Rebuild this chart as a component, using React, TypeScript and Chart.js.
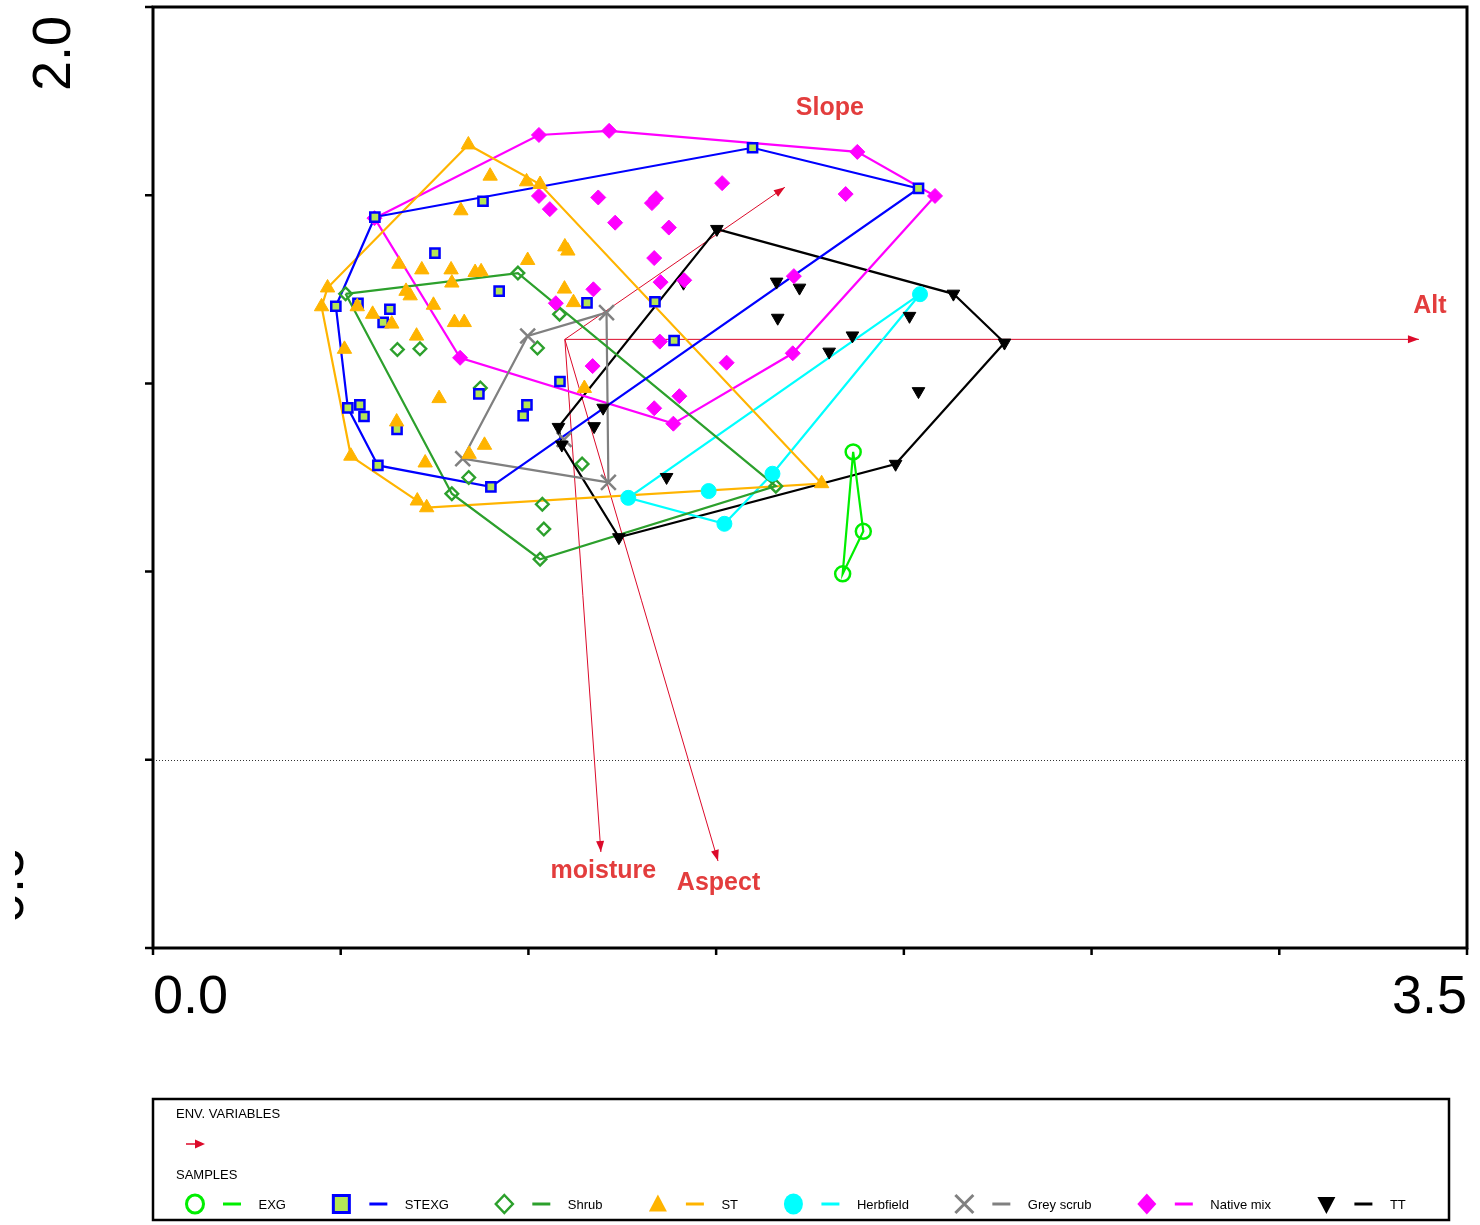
import React, { useEffect, useRef } from 'react';
import { Chart, registerables } from 'chart.js';

Chart.register(...registerables);

// ---------------- axes ----------------
const xTicks = [0, 0.5, 1, 1.5, 2, 2.5, 3, 3.5];
const yTicks = [-0.5, 0, 0.5, 1, 1.5, 2];
const xEndTicks = [0, 3.5];
const xEndLabels = ['0.0', '3.5'];
const yEndTicks = [2.0, -0.5];
const yEndLabels = ['2.0', '-0.5'];

// ---------------- environmental variables ----------------
const envNames = ['Alt', 'Slope', 'moisture', 'Aspect'];
const envOriginX = 1.097;
const envOriginY = 1.117;
const envX = [3.372, 1.683, 1.193, 1.505];
const envY = [1.117, 1.521, -0.245, -0.269];

// ---------------- samples ----------------
const groupNames = ['EXG', 'STEXG', 'Shrub', 'ST', 'Herbfield', 'Grey scrub', 'Native mix', 'TT'];

const exgX = [1.865, 1.892, 1.837];
const exgY = [0.818, 0.607, 0.494];
const exgHull = [0, 1, 2];

const stexgX = [0.591, 0.879, 1.597, 2.039, 0.751, 0.922, 0.487, 0.546, 0.631, 0.613, 1.156, 1.337, 1.388, 1.084, 0.868, 0.996, 0.986, 0.519, 0.551, 0.562, 0.650, 0.599, 0.900];
const stexgY = [1.442, 1.484, 1.626, 1.518, 1.346, 1.245, 1.205, 1.213, 1.197, 1.162, 1.214, 1.217, 1.114, 1.005, 0.972, 0.943, 0.914, 0.935, 0.943, 0.912, 0.878, 0.782, 0.725];
const stexgHull = [0, 2, 3, 22, 21, 17, 6];

const shrubX = [0.513, 0.972, 1.083, 0.651, 0.711, 1.024, 0.872, 1.143, 0.841, 0.796, 1.037, 1.041, 1.031, 1.659];
const shrubY = [1.238, 1.293, 1.184, 1.090, 1.092, 1.094, 0.988, 0.786, 0.750, 0.707, 0.679, 0.613, 0.533, 0.727];
const shrubHull = [0, 1, 13, 12, 9];

const stX = [0.840, 0.898, 0.995, 1.031, 0.820, 1.097, 1.105, 0.998, 0.655, 0.716, 0.794, 0.858, 0.874, 0.796, 0.674, 0.685, 0.465, 0.449, 0.544, 0.585, 0.636, 0.747, 0.803, 0.829, 1.096, 1.120, 0.702, 0.510, 0.762, 0.649, 0.883, 0.842, 0.725, 0.527, 0.704, 0.729, 1.149, 1.781];
const stY = [1.634, 1.551, 1.536, 1.529, 1.459, 1.363, 1.352, 1.327, 1.317, 1.302, 1.302, 1.295, 1.297, 1.267, 1.245, 1.233, 1.254, 1.204, 1.204, 1.184, 1.158, 1.208, 1.162, 1.162, 1.251, 1.215, 1.126, 1.091, 0.960, 0.898, 0.836, 0.812, 0.789, 0.807, 0.688, 0.670, 0.987, 0.734];
const stHull = [0, 3, 37, 35, 34, 33, 17, 16];

const herbX = [2.043, 1.650, 1.480, 1.266, 1.522];
const herbY = [1.237, 0.760, 0.714, 0.696, 0.627];
const herbHull = [0, 3, 4, 1];

const greyX = [1.208, 0.998, 0.825, 1.213, 1.095];
const greyY = [1.188, 1.126, 0.800, 0.737, 0.851];
const greyHull = [0, 3, 2, 1];

const nativeX = [0.590, 1.028, 1.215, 1.876, 2.083, 1.516, 1.845, 1.028, 1.057, 1.186, 1.340, 1.329, 1.231, 1.374, 1.335, 1.352, 1.415, 1.173, 1.073, 1.707, 1.350, 1.528, 1.171, 1.704, 1.402, 1.335, 1.386, 0.818];
const nativeY = [1.439, 1.660, 1.671, 1.615, 1.498, 1.532, 1.503, 1.498, 1.463, 1.494, 1.492, 1.479, 1.427, 1.414, 1.333, 1.269, 1.274, 1.250, 1.213, 1.285, 1.111, 1.055, 1.046, 1.080, 0.966, 0.934, 0.893, 1.068];
const nativeHull = [0, 1, 2, 3, 4, 23, 26, 27];

const ttX = [1.502, 2.132, 2.268, 1.978, 1.241, 1.089, 1.080, 1.661, 1.722, 1.664, 2.015, 1.863, 1.413, 1.801, 2.039, 1.199, 1.175, 1.368];
const ttY = [1.410, 1.238, 1.108, 0.786, 0.591, 0.837, 0.884, 1.270, 1.254, 1.174, 1.179, 1.127, 1.267, 1.084, 0.979, 0.935, 0.886, 0.751];
const ttHull = [0, 1, 2, 3, 4, 5, 6];

const groupXs = [exgX, stexgX, shrubX, stX, herbX, greyX, nativeX, ttX];
const groupYs = [exgY, stexgY, shrubY, stY, herbY, greyY, nativeY, ttY];
const groupHulls = [exgHull, stexgHull, shrubHull, stHull, herbHull, greyHull, nativeHull, ttHull];

// ---------------- styles ----------------
const FONT = '"Liberation Sans", Arial, Helvetica, sans-serif';
const ENV_LINE = '#dc0a2a';
const ENV_TEXT = '#e33d3d';
const envLabelOffset = [[11, -26], [45, -72], [2.5, 26], [0.5, 29]];

type GStyle = { color: string; fill: string; style: any; radius: number; border: number; rot: number; order: number; legend: string };
const groupStyles: GStyle[] = [
  { color: '#00ee00', fill: 'rgba(0,0,0,0)', style: 'circle', radius: 7.5, border: 2.5, rot: 0, order: 0, legend: 'ocircle' },
  { color: '#0000ff', fill: '#b5e655', style: 'rect', radius: 6.5, border: 2.5, rot: 0, order: 3, legend: 'square' },
  { color: '#2ca02c', fill: 'rgba(0,0,0,0)', style: 'rectRot', radius: 6.3, border: 2.4, rot: 0, order: 7, legend: 'odiamond' },
  { color: '#ffb400', fill: '#ffb400', style: 'triangle', radius: 8.3, border: 1, rot: 0, order: 2, legend: 'triUp' },
  { color: '#00ffff', fill: '#00ffff', style: 'circle', radius: 7.5, border: 1, rot: 0, order: 1, legend: 'fcircle' },
  { color: '#808080', fill: '#808080', style: 'crossRot', radius: 10.5, border: 2.5, rot: 0, order: 6, legend: 'x' },
  { color: '#ff00ff', fill: '#ff00ff', style: 'rectRot', radius: 7.5, border: 1, rot: 0, order: 4, legend: 'fdiamond' },
  { color: '#000000', fill: '#000000', style: 'triangle', radius: 7.3, border: 1, rot: 180, order: 5, legend: 'triDown' },
];

function drawLegendSymbol(ctx: CanvasRenderingContext2D, kind: string, cx: number, cy: number, color: string, fill: string) {
  ctx.save();
  ctx.strokeStyle = color;
  ctx.fillStyle = fill;
  ctx.lineWidth = 3;
  ctx.beginPath();
  switch (kind) {
    case 'ocircle':
      ctx.ellipse(cx, cy, 8.5, 9, 0, 0, Math.PI * 2);
      ctx.stroke();
      break;
    case 'square':
      ctx.rect(cx - 8, cy - 8.5, 16, 17);
      ctx.fill();
      ctx.stroke();
      break;
    case 'odiamond':
      ctx.lineWidth = 2.5;
      ctx.moveTo(cx, cy - 9);
      ctx.lineTo(cx + 8.5, cy);
      ctx.lineTo(cx, cy + 9);
      ctx.lineTo(cx - 8.5, cy);
      ctx.closePath();
      ctx.stroke();
      break;
    case 'triUp':
      ctx.moveTo(cx, cy - 9.5);
      ctx.lineTo(cx + 9, cy + 7.5);
      ctx.lineTo(cx - 9, cy + 7.5);
      ctx.closePath();
      ctx.fill();
      break;
    case 'fcircle':
      ctx.ellipse(cx, cy, 9.5, 10.5, 0, 0, Math.PI * 2);
      ctx.fill();
      break;
    case 'x':
      ctx.moveTo(cx - 9, cy - 9);
      ctx.lineTo(cx + 9, cy + 9);
      ctx.moveTo(cx + 9, cy - 9);
      ctx.lineTo(cx - 9, cy + 9);
      ctx.stroke();
      break;
    case 'fdiamond':
      ctx.moveTo(cx, cy - 10.5);
      ctx.lineTo(cx + 9.5, cy);
      ctx.lineTo(cx, cy + 10.5);
      ctx.lineTo(cx - 9.5, cy);
      ctx.closePath();
      ctx.fill();
      break;
    case 'triDown':
      ctx.moveTo(cx - 9, cy - 7);
      ctx.lineTo(cx + 9, cy - 7);
      ctx.lineTo(cx, cy + 10);
      ctx.closePath();
      ctx.fill();
      break;
  }
  ctx.restore();
}

const overlayPlugin = {
  id: 'ordinationOverlay',
  beforeDatasetsDraw(chart: any) {
    const { ctx, chartArea: a, scales } = chart;
    const y0 = scales.y.getPixelForValue(0);
    ctx.save();
    ctx.strokeStyle = '#333';
    ctx.lineWidth = 1;
    ctx.setLineDash([1, 2]);
    ctx.beginPath();
    ctx.moveTo(a.left, Math.round(y0) + 0.5);
    ctx.lineTo(a.right, Math.round(y0) + 0.5);
    ctx.stroke();
    ctx.restore();
  },
  afterDatasetsDraw(chart: any) {
    const { ctx, scales } = chart;
    const xs = scales.x;
    const ys = scales.y;
    const ox = xs.getPixelForValue(envOriginX);
    const oy = ys.getPixelForValue(envOriginY);
    ctx.save();
    envNames.forEach((name, i) => {
      const tx = xs.getPixelForValue(envX[i]);
      const ty = ys.getPixelForValue(envY[i]);
      const ang = Math.atan2(ty - oy, tx - ox);
      const c = Math.cos(ang);
      const s = Math.sin(ang);
      const L = 11;
      const W = 4;
      ctx.fillStyle = ENV_LINE;
      ctx.beginPath();
      ctx.moveTo(tx, ty);
      ctx.lineTo(tx - L * c + W * s, ty - L * s - W * c);
      ctx.lineTo(tx - L * c - W * s, ty - L * s + W * c);
      ctx.closePath();
      ctx.fill();
      ctx.fillStyle = ENV_TEXT;
      ctx.font = 'bold 25px ' + FONT;
      ctx.textAlign = 'center';
      ctx.textBaseline = 'alphabetic';
      ctx.fillText(name, tx + envLabelOffset[i][0], ty + envLabelOffset[i][1]);
    });
    ctx.restore();
  },
  afterDraw(chart: any) {
    const { ctx, chartArea: a, scales } = chart;
    const xs = scales.x;
    const ys = scales.y;
    ctx.save();
    // frame
    ctx.strokeStyle = '#000';
    ctx.lineWidth = 3;
    ctx.strokeRect(a.left, a.top, a.right - a.left, a.bottom - a.top);
    // ticks
    ctx.lineWidth = 2.5;
    ctx.beginPath();
    xTicks.forEach((v) => {
      const px = xs.getPixelForValue(v);
      ctx.moveTo(px, a.bottom);
      ctx.lineTo(px, a.bottom + 7);
    });
    yTicks.forEach((v) => {
      const py = ys.getPixelForValue(v);
      ctx.moveTo(a.left - 8, py);
      ctx.lineTo(a.left, py);
    });
    ctx.stroke();
    // tick labels
    ctx.fillStyle = '#000';
    ctx.font = '54px ' + FONT;
    ctx.textBaseline = 'alphabetic';
    ctx.textAlign = 'left';
    ctx.fillText(xEndLabels[0], xs.getPixelForValue(xEndTicks[0]), a.bottom + 65);
    ctx.textAlign = 'right';
    ctx.fillText(xEndLabels[1], xs.getPixelForValue(xEndTicks[1]), a.bottom + 65);

    ctx.save();
    ctx.translate(70, ys.getPixelForValue(yEndTicks[0]) + 9);
    ctx.rotate(-Math.PI / 2);
    ctx.textAlign = 'right';
    ctx.fillText(yEndLabels[0], 0, 0);
    ctx.restore();

    ctx.save();
    ctx.beginPath();
    ctx.rect(15, 0, 200, 1225);
    ctx.clip();
    ctx.translate(22.5, ys.getPixelForValue(yEndTicks[1]) - 7);
    ctx.rotate(-Math.PI / 2);
    ctx.textAlign = 'left';
    ctx.fillText(yEndLabels[1], 0, 0);
    ctx.restore();

    // legend box
    ctx.strokeStyle = '#000';
    ctx.lineWidth = 2.5;
    ctx.strokeRect(153, 1099, 1296, 121);
    ctx.font = '13px ' + FONT;
    ctx.fillStyle = '#000';
    ctx.textAlign = 'left';
    ctx.fillText('ENV. VARIABLES', 176, 1118);
    // env arrow symbol
    ctx.strokeStyle = ENV_LINE;
    ctx.lineWidth = 1.5;
    ctx.beginPath();
    ctx.moveTo(186, 1144);
    ctx.lineTo(197, 1144);
    ctx.stroke();
    ctx.fillStyle = ENV_LINE;
    ctx.beginPath();
    ctx.moveTo(205, 1144);
    ctx.lineTo(195, 1139.5);
    ctx.lineTo(195, 1148.5);
    ctx.closePath();
    ctx.fill();
    ctx.fillStyle = '#000';
    ctx.fillText('SAMPLES', 176, 1179);

    let x = 195;
    const cy = 1204;
    groupNames.forEach((name, i) => {
      const st = groupStyles[i];
      drawLegendSymbol(ctx, st.legend, x, cy, st.color, st.fill);
      ctx.strokeStyle = st.color;
      ctx.lineWidth = 3;
      ctx.beginPath();
      ctx.moveTo(x + 28, cy);
      ctx.lineTo(x + 46, cy);
      ctx.stroke();
      ctx.fillStyle = '#000';
      ctx.font = '13px ' + FONT;
      ctx.fillText(name, x + 63.5, cy + 5);
      x = x + 63.5 + ctx.measureText(name).width + 55.4;
    });
    ctx.restore();
  },
};

export default function App() {
  const canvasRef = useRef<HTMLCanvasElement | null>(null);

  useEffect(() => {
    if (!canvasRef.current) return;
    const datasets: any[] = [];

    envNames.forEach((name, i) => {
      datasets.push({
        label: name,
        data: [
          { x: envOriginX, y: envOriginY },
          { x: envX[i], y: envY[i] },
        ],
        showLine: true,
        borderColor: ENV_LINE,
        borderWidth: 1,
        pointRadius: 0,
        fill: false,
        tension: 0,
        order: 40,
      });
    });

    groupNames.forEach((name, i) => {
      const xsArr = groupXs[i];
      const ysArr = groupYs[i];
      const hull = groupHulls[i];
      const st = groupStyles[i];
      const closed = hull.concat([hull[0]]);
      datasets.push({
        label: name + ' hull',
        data: closed.map((k) => ({ x: xsArr[k], y: ysArr[k] })),
        showLine: true,
        borderColor: st.color,
        borderWidth: 2.2,
        pointRadius: 0,
        fill: false,
        tension: 0,
        order: 20 + i,
      });
      datasets.push({
        label: name,
        data: xsArr.map((v, k) => ({ x: v, y: ysArr[k] })),
        showLine: false,
        pointStyle: st.style,
        pointRadius: st.radius,
        pointRotation: st.rot,
        backgroundColor: st.fill,
        borderColor: st.color,
        pointBackgroundColor: st.fill,
        pointBorderColor: st.color,
        pointBorderWidth: st.border,
        order: st.order,
      });
    });

    const chart = new Chart(canvasRef.current, {
      type: 'scatter',
      data: { datasets },
      options: {
        animation: false,
        responsive: false,
        events: [],
        devicePixelRatio: 1,
        layout: { autoPadding: false, padding: { left: 153, right: 13, top: 7, bottom: 277 } },
        plugins: {
          legend: { display: false },
          tooltip: { enabled: false },
        },
        scales: {
          x: { type: 'linear', min: 0, max: 3.5, display: false },
          y: { type: 'linear', min: -0.5, max: 2.0, display: false },
        },
      },
      plugins: [overlayPlugin],
    } as any);

    return () => {
      chart.destroy();
    };
  }, []);

  return (
    <div style={{ position: 'absolute', left: 0, top: 0, width: 1480, height: 1225, background: '#fff' }}>
      <canvas ref={canvasRef} width={1480} height={1225} style={{ display: 'block', width: 1480, height: 1225 }} />
    </div>
  );
}
